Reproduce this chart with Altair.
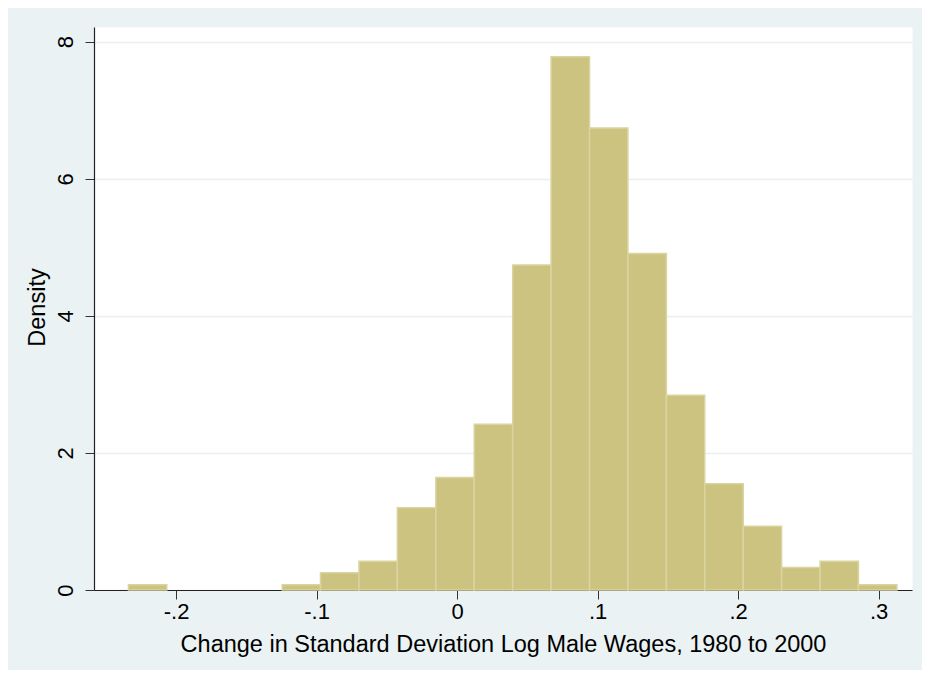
import altair as alt
import pandas as pd

# Histogram bins (edges) and densities
bin_starts = [-0.2339, -0.2066, -0.1792, -0.1519, -0.1245, -0.0972, -0.0698,
              -0.0425, -0.0151, 0.0122, 0.0396, 0.0669, 0.0943, 0.1216,
              0.1490, 0.1763, 0.2037, 0.2310, 0.2584, 0.2857]
bin_ends = [-0.2066, -0.1792, -0.1519, -0.1245, -0.0972, -0.0698, -0.0425,
            -0.0151, 0.0122, 0.0396, 0.0669, 0.0943, 0.1216, 0.1490,
            0.1763, 0.2037, 0.2310, 0.2584, 0.2857, 0.3131]
density = [0.078, 0, 0, 0, 0.078, 0.25, 0.42, 1.20, 1.64, 2.42,
           4.74, 7.78, 6.74, 4.91, 2.84, 1.55, 0.93, 0.33, 0.42, 0.075]

x_ticks = [-0.2, -0.1, 0.0, 0.1, 0.2, 0.3]
x_tick_labels = ["-.2", "-.1", "0", ".1", ".2", ".3"]
y_ticks = [0, 2, 4, 6, 8]

x_title = "Change in Standard Deviation Log Male Wages, 1980 to 2000"
y_title = "Density"

df = pd.DataFrame({"start": bin_starts, "end": bin_ends, "density": density})
df = df[df["density"] > 0]

label_expr = ""
for v, lab in zip(x_ticks, x_tick_labels):
    label_expr += f"abs(datum.value - ({v})) < 1e-6 ? '{lab}' : "
label_expr += "''"

FONT = "Liberation Sans"

bars = alt.Chart(df).mark_rect(
    fill="#CBC37F", stroke="#DAD4A0", strokeWidth=1.5
).encode(
    x=alt.X("start:Q",
            scale=alt.Scale(domain=[-0.2584, 0.3238], nice=False, zero=False),
            axis=alt.Axis(values=x_ticks, labelExpr=label_expr, title=x_title,
                          grid=False, tickSize=9, tickColor="#333333",
                          domainColor="#222222", domainWidth=1.2,
                          labelFontSize=22, labelPadding=2, labelColor="#000000",
                          labelFont=FONT, titleFont=FONT, titleFontSize=23.5,
                          titleFontWeight="normal", titleColor="#000000",
                          titleBaseline="alphabetic", titleY=61)),
    x2="end:Q",
    y=alt.Y("density:Q",
            scale=alt.Scale(domain=[0, 8.214], nice=False),
            axis=alt.Axis(values=y_ticks, title=y_title, grid=True,
                          gridColor="#E8F0F2", gridWidth=1.6,
                          tickSize=9, tickColor="#333333",
                          domainColor="#222222", domainWidth=1.2,
                          labelAngle=270, labelAlign="center",
                          labelBaseline="alphabetic", labelPadding=13,
                          labelFontSize=22, labelColor="#000000", labelFont=FONT,
                          titleFont=FONT, titleFontSize=23.5, titleFontWeight="normal",
                          titleColor="#000000", titleAngle=270,
                          titleAlign="center", titleBaseline="alphabetic",
                          titleX=-50, titleY=280)),
    y2=alt.datum(0),
).properties(
    width=818, height=563,
    autosize=alt.AutoSizeParams(type="none"),
    padding={"left": 86, "top": 19, "right": 10, "bottom": 80},
).configure(
    background="#EAF2F3"
).configure_view(
    fill="#FFFFFF", stroke="transparent"
)

bars.save("out.html", embed_options={"renderer": "svg", "actions": False})
